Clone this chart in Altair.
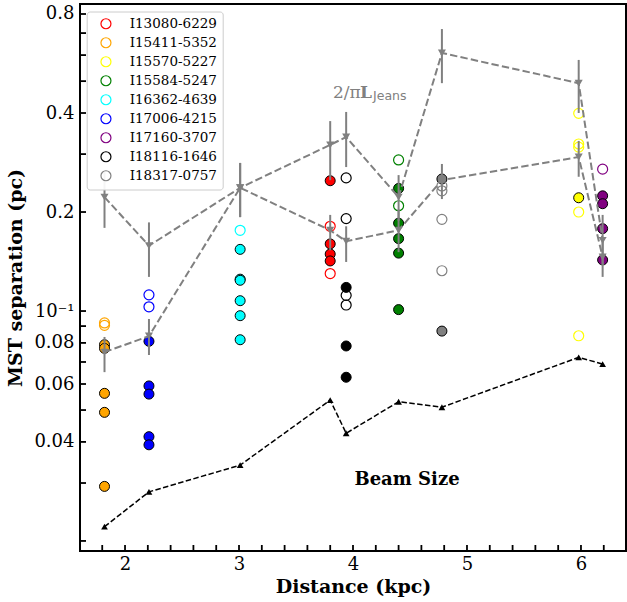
import altair as alt
import pandas as pd

# ---------------- data ----------------
names = ["I13080-6229", "I15411-5352", "I15570-5227", "I15584-5247", "I16362-4639",
         "I17006-4215", "I17160-3707", "I18116-1646", "I18317-0757"]
colors = ["red", "orange", "yellow", "green", "cyan", "blue", "purple", "black", "gray"]
distances = [3.80, 1.82, 5.98, 4.40, 3.01, 2.21, 6.19, 3.94, 4.78]

filled_sep = {
    "I13080-6229": [0.249, 0.160, 0.149, 0.142],
    "I15411-5352": [0.079, 0.077, 0.0562, 0.0492, 0.0293],
    "I15570-5227": [0.221],
    "I15584-5247": [0.236, 0.185, 0.166, 0.150, 0.101],
    "I16362-4639": [0.154, 0.125, 0.124, 0.1075, 0.0968, 0.0818],
    "I17006-4215": [0.0809, 0.0592, 0.0559, 0.0415, 0.0392],
    "I17160-3707": [0.224, 0.212, 0.178, 0.143],
    "I18116-1646": [0.118, 0.0783, 0.0629],
    "I18317-0757": [0.252, 0.0869],
}
open_sep = {
    "I13080-6229": [0.181, 0.130],
    "I15411-5352": [0.092, 0.0905],
    "I15570-5227": [0.399, 0.322, 0.315, 0.200, 0.0841],
    "I15584-5247": [0.288, 0.209],
    "I16362-4639": [0.176],
    "I17006-4215": [0.112, 0.103],
    "I17160-3707": [0.270],
    "I18116-1646": [0.254, 0.191, 0.1116, 0.1043],
    "I18317-0757": [0.240, 0.232, 0.190, 0.1326],
}

line_dist = [1.82, 2.21, 3.01, 3.80, 3.94, 4.40, 4.78, 5.98, 6.19]
jeans_a = [0.222, 0.158, 0.237, 0.320, 0.338, 0.222, 0.609, 0.493, 0.164]
jeans_a_lo = [0.179, 0.127, 0.193, 0.250, 0.274, 0.188, 0.493, 0.400, 0.138]
jeans_a_hi = [0.265, 0.186, 0.282, 0.378, 0.403, 0.259, 0.720, 0.580, 0.196]
jeans_b = [0.075, 0.0839, 0.237, 0.176, 0.163, 0.176, 0.250, 0.294, 0.146]
jeans_b_lo = [0.0652, 0.0735, 0.193, 0.153, 0.141, 0.151, 0.219, 0.256, 0.127]
jeans_b_hi = [0.0834, 0.0946, 0.282, 0.196, 0.181, 0.204, 0.280, 0.329, 0.168]
beam = [0.0221, 0.0282, 0.0340, 0.0536, 0.0425, 0.0530, 0.0510, 0.0723, 0.0690]

x_ticks = [1.8, 2.0, 2.2, 2.4, 2.6, 2.8, 3.0, 3.2, 3.4, 3.6, 3.8, 4.0, 4.2, 4.4, 4.6,
           4.8, 5.0, 5.2, 5.4, 5.6, 5.8, 6.0, 6.2]
x_labels = [2, 3, 4, 5, 6]
y_ticks = [0.02, 0.03, 0.04, 0.05, 0.06, 0.07, 0.08, 0.09, 0.1, 0.2, 0.3, 0.4, 0.5,
           0.6, 0.7, 0.8]
y_labels = [0.04, 0.06, 0.08, 0.1, 0.2, 0.4, 0.8]

# ---------------- tables ----------------
filled_df = pd.DataFrame([{"name": n, "dist": d, "sep": v}
                          for n, d in zip(names, distances) for v in filled_sep[n]])
open_df = pd.DataFrame([{"name": n, "dist": d, "sep": v}
                        for n, d in zip(names, distances) for v in open_sep[n]])
jeans_df = pd.DataFrame(
    [{"series": "A", "dist": d, "sep": v, "lo": lo, "hi": hi}
     for d, v, lo, hi in zip(line_dist, jeans_a, jeans_a_lo, jeans_a_hi)] +
    [{"series": "B", "dist": d, "sep": v, "lo": lo, "hi": hi}
     for d, v, lo, hi in zip(line_dist, jeans_b, jeans_b_lo, jeans_b_hi)])
beam_df = pd.DataFrame({"dist": line_dist, "sep": beam})
xt_df = pd.DataFrame({"dist": x_ticks})
yt_df = pd.DataFrame({"sep": y_ticks})
ann_jeans = pd.DataFrame({"dist": [3.825], "sep": [0.444]})
ann_beam = pd.DataFrame({"dist": [4.474], "sep": [0.0296]})

W, H = 546, 547
SERIF = "DejaVu Serif"
GRAY = "#808080"

xscale = alt.Scale(domain=[1.605, 6.395], nice=False, zero=False)
yscale = alt.Scale(type="log", domain=[0.01864, 0.858], nice=False)
cscale = alt.Scale(domain=names, range=colors)

xaxis = alt.Axis(values=x_labels, format="d", tickSize=0, domain=False, grid=False,
                 labelFont=SERIF, labelFontSize=18, labelPadding=4, labelColor="black",
                 title="Distance (kpc)", titleFont=SERIF, titleFontSize=19,
                 titleFontWeight="bold", titleColor="black", titlePadding=4)
yaxis = alt.Axis(values=y_labels, tickSize=0, domain=False, grid=False,
                 labelExpr="datum.value == 0.1 ? '10⁻¹' : format(datum.value, '~g')",
                 labelFont=SERIF, labelFontSize=18, labelPadding=6, labelColor="black",
                 title="MST separation (pc)", titleFont=SERIF, titleFontSize=19,
                 titleFontWeight="bold", titleColor="black", titlePadding=8)

X = alt.X("dist:Q", scale=xscale, axis=xaxis, title="Distance (kpc)")
Y = alt.Y("sep:Q", scale=yscale, axis=yaxis, title="MST separation (pc)")

filled_pts = alt.Chart(filled_df).mark_point(
    shape="circle", filled=True, size=100, stroke="black", strokeWidth=1, opacity=1
).encode(x=X, y=Y, fill=alt.Fill("name:N", scale=cscale, legend=None))

open_pts = alt.Chart(open_df).mark_point(
    shape="circle", filled=False, size=100, strokeWidth=1.2, opacity=1
).encode(x=X, y=Y, stroke=alt.Stroke("name:N", scale=cscale, sort=names,
                                     legend=alt.Legend(title=None)))

jeans_line = alt.Chart(jeans_df).mark_line(
    color=GRAY, strokeWidth=2, strokeDash=[7.4, 3.2]
).encode(x=X, y=Y, detail="series:N", order="dist:Q")
jeans_err = alt.Chart(jeans_df).mark_rule(color=GRAY, strokeWidth=2).encode(
    x=X, y=alt.Y("lo:Q", scale=yscale, axis=yaxis, title="MST separation (pc)"), y2="hi:Q")
jeans_tri = alt.Chart(jeans_df).mark_point(
    shape="triangle-down", filled=True, size=65, color=GRAY, opacity=1
).encode(x=X, y=Y)

beam_line = alt.Chart(beam_df).mark_line(
    color="black", strokeWidth=1.5, strokeDash=[5.5, 2.4]
).encode(x=X, y=Y, order="dist:Q")
beam_tri = alt.Chart(beam_df).mark_point(
    shape="triangle-up", filled=True, size=45, color="black", opacity=1
).encode(x=X, y=Y)

xticks = alt.Chart(xt_df).mark_rule(color="black", strokeWidth=1.8).encode(
    x=X, y=alt.value(H), y2=alt.value(H - 6))
yticks = alt.Chart(yt_df).mark_rule(color="black", strokeWidth=1.8).encode(
    y=Y, x=alt.value(0), x2=alt.value(6))

t1 = alt.Chart(ann_jeans).mark_text(
    text="2/π", font=SERIF, fontSize=17, color=GRAY, align="left", baseline="alphabetic"
).encode(x=X, y=Y)
t2 = alt.Chart(ann_jeans).mark_text(
    text="L", font=SERIF, fontSize=17, fontWeight="bold", color=GRAY, align="left",
    baseline="alphabetic", dx=27
).encode(x=X, y=Y)
t3 = alt.Chart(ann_jeans).mark_text(
    text="Jeans", font="DejaVu Sans", fontSize=12.5, color=GRAY, align="left",
    baseline="alphabetic", dx=40, dy=2
).encode(x=X, y=Y)
beam_txt = alt.Chart(ann_beam).mark_text(
    text="Beam Size", font=SERIF, fontSize=18, fontWeight="bold", color="black",
    align="center", baseline="alphabetic"
).encode(x=X, y=Y)

chart = alt.layer(
    filled_pts, open_pts, jeans_line, jeans_err, jeans_tri, beam_line, beam_tri,
    xticks, yticks, t1, t2, t3, beam_txt
).resolve_scale(fill="independent", stroke="independent").properties(
    width=W, height=H,
    autosize=alt.AutoSizeParams(type="none"),
    padding={"left": 80, "top": 4, "right": 1, "bottom": 51},
    background="white",
).configure_view(
    stroke="black", strokeWidth=2
).configure_legend(
    orient="none", legendX=6.7, legendY=7.5, padding=5.5,
    fillColor="rgba(255,255,255,0.92)", strokeColor="#cccccc", cornerRadius=3,
    labelFont=SERIF, labelFontSize=13.5, labelColor="black", labelOffset=17,
    symbolSize=100, symbolStrokeWidth=1.2, symbolOffset=7, rowPadding=3,
    symbolType="circle"
)

chart.save("out.html", embed_options={"renderer": "svg", "actions": False})
